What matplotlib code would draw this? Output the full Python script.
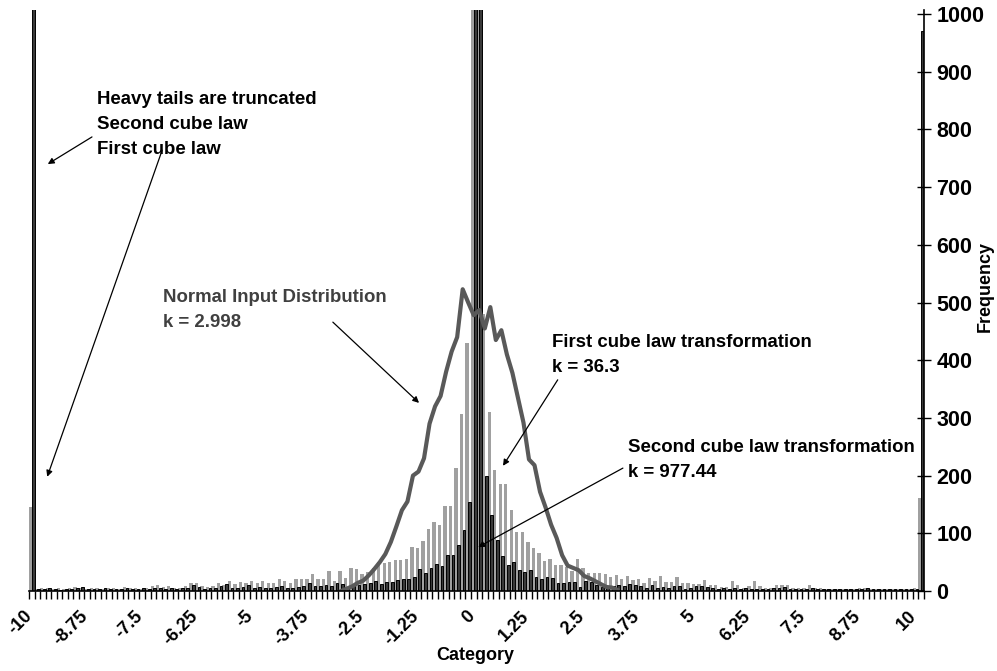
import numpy as np
import matplotlib
matplotlib.use('Agg')
import matplotlib.pyplot as plt
from matplotlib.transforms import ScaledTranslation

plt.rcParams['font.family'] = ['Liberation Sans', 'DejaVu Sans']
plt.rcParams['font.weight'] = 'bold'

# bins -10 .. 10 by 0.125, the last bin holds everything beyond
categories = [round(-10 + 0.125 * i, 3) for i in range(161)] + ['More']

first_cube = [
	145, 4, 6, 5, 3, 5, 4, 6, 7, 6,
	4, 6, 5, 3, 6, 5, 4, 7, 5, 6,
	4, 6, 8, 11, 7, 9, 6, 5, 8, 14,
	13, 8, 7, 9, 13, 10, 17, 12, 16, 14,
	17, 14, 18, 14, 14, 21, 18, 14, 20, 21,
	21, 29, 20, 20, 34, 18, 35, 22, 40, 38,
	29, 33, 40, 50, 48, 50, 54, 54, 55, 76,
	75, 86, 108, 120, 115, 147, 147, 213, 307, 430,
	2500, 2500, 480, 310, 210, 185, 185, 140, 103, 103,
	85, 75, 66, 52, 56, 45, 45, 42, 35, 56,
	40, 31, 31, 31, 29, 25, 27, 20, 26, 19,
	21, 13, 22, 17, 26, 15, 16, 24, 14, 13,
	12, 12, 19, 10, 10, 7, 7, 17, 10, 6,
	9, 17, 9, 6, 6, 10, 10, 10, 6, 5,
	6, 10, 6, 5, 4, 4, 4, 4, 4, 4,
	6, 6, 4, 4, 4, 4, 4, 4, 4, 4,
	6, 162]

second_cube = [
	2500, 3, 4, 5, 3, 2, 3, 4, 6, 7,
	4, 3, 4, 5, 3, 4, 3, 5, 4, 3,
	5, 4, 6, 5, 4, 5, 3, 6, 5, 10,
	7, 4, 5, 6, 8, 12, 5, 6, 7, 10,
	5, 7, 6, 5, 7, 8, 6, 6, 7, 8,
	13, 8, 9, 11, 9, 13, 12, 7, 10, 10,
	12, 13, 17, 12, 15, 15, 19, 21, 21, 25,
	38, 31, 40, 46, 44, 62, 62, 79, 105, 155,
	2500, 2500, 200, 132, 89, 60, 45, 50, 36, 33,
	37, 24, 21, 24, 23, 14, 13, 15, 15, 7,
	17, 16, 10, 7, 6, 9, 10, 8, 12, 10,
	9, 6, 11, 5, 7, 6, 8, 9, 4, 6,
	8, 9, 7, 6, 4, 5, 4, 5, 3, 6,
	3, 4, 3, 4, 6, 6, 7, 4, 3, 4,
	4, 5, 3, 4, 3, 3, 3, 3, 4, 3,
	4, 5, 3, 4, 3, 3, 3, 3, 3, 3,
	4, 970]

# normal input, only where it leaves zero (from -3 to 3.25)
normal_from = -3.0
normal = [
	0, 4, 8, 14, 18, 27, 38, 50, 64, 85,
	112, 140, 155, 200, 207, 230, 290, 320, 338, 380,
	415, 440, 523, 500, 478, 487, 455, 492, 435, 452,
	410, 378, 335, 292, 228, 218, 172, 145, 115, 92,
	62, 44, 40, 36, 26, 22, 17, 12, 7, 6, 2]

fig = plt.figure(figsize=(9.97, 6.71), dpi=100)
ax = fig.add_axes([29 / 997, 80 / 671, 895 / 997, 581 / 671])

x = np.arange(len(categories))
ax.bar(x - 0.2, first_cube, width=0.6, color='#a0a0a0', linewidth=0)
ax.bar(x + 0.25, second_cube, width=0.5, color='#3a3a3a', edgecolor='black', linewidth=0.7)

i0 = categories.index(normal_from)
xn = x[i0:i0 + len(normal)]
ax.plot(xn, normal, color='#595959', lw=3, solid_joinstyle='round')

ax.set_xlim(-0.5, len(categories) - 0.5)
ax.set_ylim(0, 1007)

lab = x[:161:10]
ax.set_xticks(lab)
ax.set_xticks(np.arange(len(categories) + 1) - 0.5, minor=True)
ax.tick_params(axis='x', which='major', length=0, pad=12)
ax.tick_params(axis='x', which='minor', length=6, width=1, direction='out')
ax.set_xticklabels(['%g' % categories[i] for i in lab], rotation=45, ha='right', va='top',
	rotation_mode='anchor', fontsize=13)

ax.yaxis.tick_right()
ax.set_yticks(range(0, 1001, 100))
ax.tick_params(axis='y', direction='inout', length=10, width=1, labelsize=15.5, pad=4)

# nudge the slanted labels so their ends sit under the bins
shift = ScaledTranslation(-8 / 100, 0, fig.dpi_scale_trans)
for t in ax.xaxis.get_majorticklabels():
	t.set_transform(t.get_transform() + shift)

for s in ['left', 'top']:
	ax.spines[s].set_visible(False)
for s in ['right', 'bottom']:
	ax.spines[s].set_linewidth(1.2)

fig.text(475 / 997, 1 - 656 / 671, 'Category', fontsize=13, ha='center', va='center')
fig.text(985 / 997, 1 - 287 / 671, 'Frequency', fontsize=13, rotation=90, ha='center', va='center')

fs = 13.4
ls = 1.62
arr = dict(arrowstyle='-|>', color='black', lw=0.9, mutation_scale=9, shrinkA=0, shrinkB=0)

ax.text(11.8, 867, 'Heavy tails are truncated\nSecond cube law\nFirst cube law', fontsize=fs,
	va='top', ha='left', linespacing=ls)
ax.annotate('', xy=(2.9, 740), xytext=(10.9, 787), arrowprops=arr)
ax.annotate('', xy=(2.8, 198), xytext=(23.6, 764), arrowprops=arr)

ax.text(23.8, 523, 'Normal Input Distribution\nk = 2.998', fontsize=fs, color='#404040',
	va='top', ha='left', linespacing=ls)
ax.annotate('', xy=(70.1, 326), xytext=(54.5, 466), arrowprops=arr)

ax.text(94.2, 445, 'First cube law transformation\nk = 36.3', fontsize=fs,
	va='top', ha='left', linespacing=ls)
ax.annotate('', xy=(85.3, 217), xytext=(95.2, 366), arrowprops=arr)

ax.text(107.9, 263, 'Second cube law transformation\nk = 977.44', fontsize=fs,
	va='top', ha='left', linespacing=ls)
ax.annotate('', xy=(80.8, 76), xytext=(107, 213), arrowprops=arr)

fig.savefig('out.png', dpi=100)
